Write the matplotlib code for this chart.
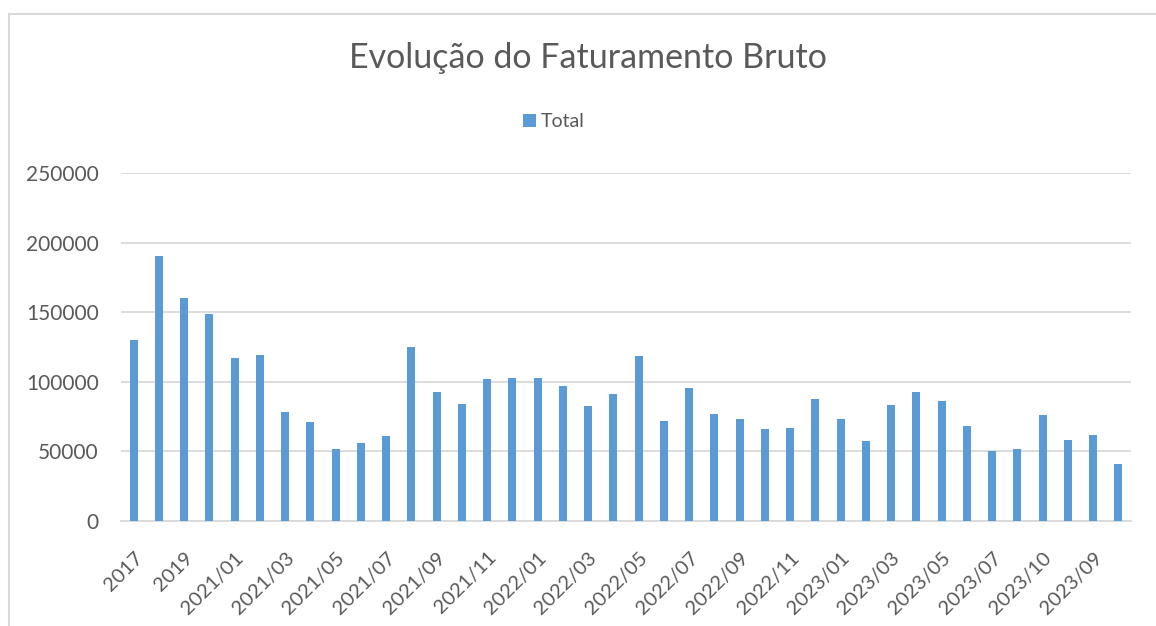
import matplotlib.pyplot as plt
from matplotlib.lines import Line2D
import numpy as np

# periods (only every other label is shown on the axis)
periodos = ["2017", "2018", "2019", "2020"]
periodos += [f"2021/{m:02d}" for m in range(1, 13)]
periodos += [f"2022/{m:02d}" for m in range(1, 13)]
periodos += ["2023/01", "2023/02", "2023/03", "2023/04", "2023/05", "2023/06",
             "2023/07", "2023/08", "2023/10", "2023/11", "2023/09", "2023/12"]

total = [130000, 190300, 160500, 148800, 117000, 119300, 78400, 71200, 52000, 56100,
         61100, 125300, 92700, 83900, 102100, 102800, 102600, 97100, 82700, 91300,
         118400, 71700, 95400, 76900, 73300, 65900, 66900, 87500, 73100, 57300,
         83200, 92700, 86300, 68500, 50500, 51500, 76200, 58200, 62000, 40700]

cor_barra = "#5B9BD5"
cor_texto = "#595959"
cor_grade = "#D9D9D9"

plt.rcParams["font.family"] = ["Lato", "DejaVu Sans"]

fig = plt.figure(figsize=(11.56, 6.26), dpi=100)
ax = fig.add_axes([0.1047, 0.1677, 0.8737, 0.5554])

x = np.arange(len(periodos))
ax.bar(x, total, width=0.32, color=cor_barra, label="Total", zorder=3)

ax.set_xlim(-0.5, len(periodos) - 0.5)
ax.set_ylim(0, 250000)
ax.set_yticks(range(0, 250001, 50000))
ax.yaxis.grid(True, color=cor_grade, linewidth=1.3, zorder=0)
ax.tick_params(axis="y", length=0, labelsize=15, labelcolor=cor_texto, pad=16)

ax.set_xticks(x[::2])
ax.set_xticklabels(periodos[::2], rotation=45, ha="right", rotation_mode="anchor")
ax.tick_params(axis="x", length=0, labelsize=14.5, labelcolor=cor_texto, pad=20)

for lado in ["top", "right", "left"]:
    ax.spines[lado].set_visible(False)
ax.spines["bottom"].set_color(cor_grade)
ax.spines["bottom"].set_linewidth(1.3)

fig.text(0.5087, 0.907, "Evolução do Faturamento Bruto", ha="center", va="center",
         fontsize=24.5, color=cor_texto)

leg = fig.legend(loc="center", bbox_to_anchor=(0.479, 0.806), frameon=False,
                 fontsize=14, handlelength=0.65, handleheight=0.65, handletextpad=0.25)
for t in leg.get_texts():
    t.set_color(cor_texto)

# chart area border
fig.add_artist(Line2D([8.5 / 1156, 8.5 / 1156], [0, 1 - 13.5 / 626],
                      transform=fig.transFigure, color=cor_grade, linewidth=1.5))
fig.add_artist(Line2D([8.5 / 1156, 1], [1 - 13.5 / 626, 1 - 13.5 / 626],
                      transform=fig.transFigure, color=cor_grade, linewidth=1.5))

fig.savefig("out.png", dpi=100)
